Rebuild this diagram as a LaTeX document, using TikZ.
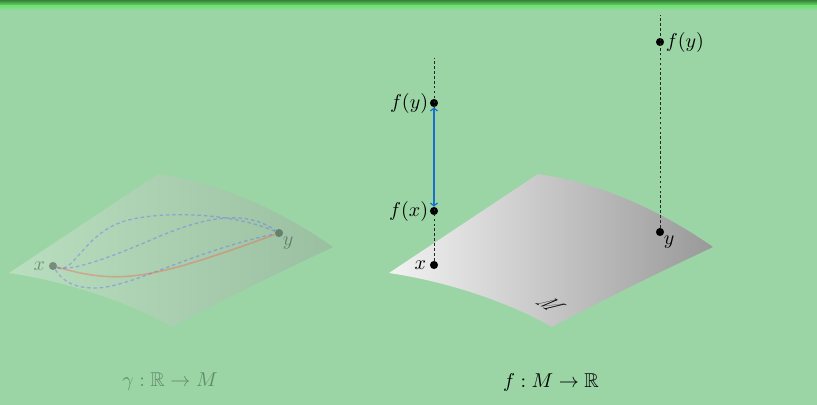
\documentclass[tikz,border=0pt]{standalone}
\usepackage{amsmath, amssymb}
\usetikzlibrary{arrows.meta,calc,positioning}
\definecolor{slidebg}{RGB}{155,213,165}
\definecolor{bardark}{RGB}{52,130,56}
\definecolor{barlight}{RGB}{112,226,116}
\definecolor{arrowblue}{RGB}{26,110,205}
\definecolor{pathblue}{RGB}{84,90,255}
\definecolor{pathred}{RGB}{255,80,60}
\tikzset{
  ptdot/.style={circle,fill=black,inner sep=0pt,minimum size=4.6pt},
  lbl/.style={inner sep=1pt,scale=1.14},
  guide/.style={black!85,dash pattern=on 1.5pt off 1.3pt,line width=0.45pt},
  pathdash/.style={pathblue,dash pattern=on 2pt off 1.6pt,line width=0.75pt},
}
\newcommand{\surfpath}{(389,273) -- (538,174) .. controls (600,183) and (660,210) .. (713,247) .. controls (660,272) and (610,296) .. (552,327) .. controls (510,303) and (450,282) .. cycle}
\begin{document}
\begin{tikzpicture}[x=0.02cm,y=-0.02cm]
            \useasboundingbox (0,0) rectangle (817,405);
            % Background and top bar
            \fill[slidebg] (0,0) rectangle (817,405);
            \fill[top color=bardark,bottom color=barlight,draw=none] (0,0) rectangle (817,6);
            \fill[top color=barlight,bottom color=slidebg,draw=none] (0,6) rectangle (817,10);
            % Right surface
            \shade[left color=white!95!black,right color=black!40!white] \surfpath;
            \node[ptdot] (xr) at (434,265) {};
            \node[ptdot] (yr) at (660,232) {};
            \node[ptdot] (fxr) at (434,211) {};
            \node[ptdot] (fyr) at (434,103) {};
            \node[ptdot] (fyt) at (660,42) {};
            \coordinate (toplow) at (434,58);
            \coordinate (tophigh) at (660,15);
            \draw[guide] (xr) -- (toplow);
            \draw[guide] (yr) -- (tophigh);
            \draw[arrowblue,line width=0.7pt,{Straight Barb[length=1.6pt,width=4pt]}-{Straight Barb[length=1.6pt,width=4pt]}] (fxr) -- (fyr);
            \node[lbl,left=0.6pt of xr] (xrlabel) {$x$};
            \node[lbl,below right=-1pt and -1pt of yr] (yrlabel) {$y$};
            \node[lbl,left=-0.5pt of fxr] (fxrlabel) {$f(x)$};
            \node[lbl,left=-0.5pt of fyr] (fyrlabel) {$f(y)$};
            \node[lbl,right=-0.5pt of fyt] (fytlabel) {$f(y)$};
            \node[inner sep=1pt,cm={.78,-.45,1.5,.52,(0,0)}] (mlabel) at (551,305) {$M$};
            \node[lbl] (flabel) at (551,382) {$f:M\to\mathbb{R}$};
            % Left surface, faded
            \begin{scope}[opacity=.35]
              \begin{scope}[xshift=-7.6cm]
                \shade[left color=white!95!black,right color=black!40!white] \surfpath;
              \end{scope}
              \node[ptdot] (xl) at (53,266) {};
              \node[ptdot] (yl) at (279,233) {};
              \draw[pathdash] (xl) .. controls (75,275) and (85,228) .. (133,219) .. controls (165,212) and (230,212) .. (yl);
              \draw[pathdash] (xl) .. controls (70,272) and (110,258) .. (160,236) .. controls (190,224) and (240,205) .. (yl);
              \draw[pathdash] (xl) .. controls (65,285) and (80,288) .. (95,288) .. controls (130,288) and (190,252) .. (yl);
              \draw[pathred,line width=0.9pt] (xl) .. controls (120,285) and (150,280) .. (yl);
              \node[lbl,left=0.6pt of xl] (xllabel) {$x$};
              \node[lbl,below right=-1pt and -1pt of yl] (yllabel) {$y$};
              \node[lbl] (gammalabel) at (170,382) {$\gamma:\mathbb{R}\to M$};
            \end{scope}
          \end{tikzpicture}
\end{document}
